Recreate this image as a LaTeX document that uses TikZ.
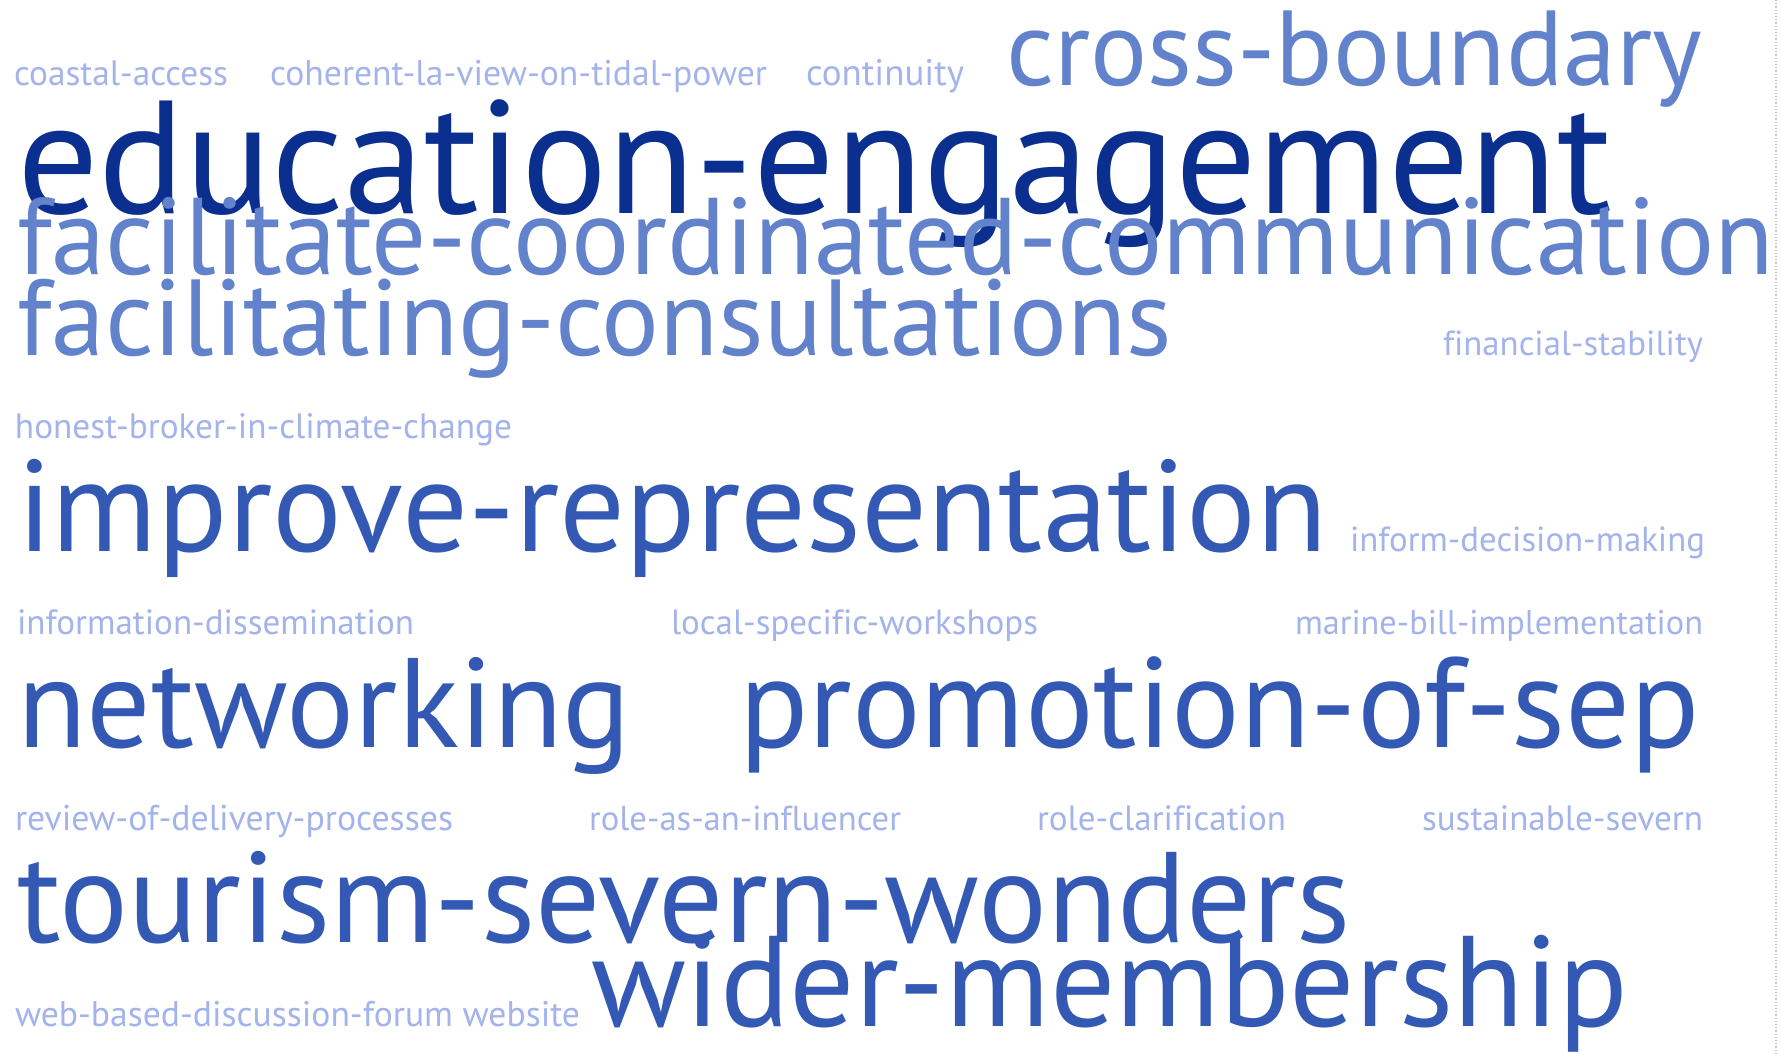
\documentclass[tikz,border=0pt]{standalone}
\usepackage{fontspec}
\setmainfont[Ligatures=NoCommon]{PT Sans}
\usepackage{graphicx}
\definecolor{cDark}{HTML}{0B2F8E}
\definecolor{cMid}{HTML}{3459B5}
\definecolor{cLight}{HTML}{6282CC}
\definecolor{cSmall}{HTML}{A3B3EB}
\definecolor{cRule}{HTML}{C8C8C8}
\tikzset{
  word/.style={anchor=base west, inner sep=0pt, outer sep=0pt, font=\fontsize{20}{24}\selectfont},
  wdark/.style={word, text=cDark},
  wmid/.style={word, text=cMid},
  wlight/.style={word, text=cLight},
  wsmall/.style={word, text=cSmall},
  rule/.style={draw=cRule, dotted, line width=1.2pt}
}
\newcommand\fw[2]{\resizebox{#1pt}{!}{#2}}
\begin{document}
\begin{tikzpicture}[x=1pt,y=-1pt]
\fill[white] (0,0) rectangle (1780,1053);
\useasboundingbox (0,0) rectangle (1780,1053);
% row 1
\node[wsmall] (coastal) at (14,85) {\fw{214}{coastal-access}};
\node[wsmall] (coherent) at (270,85) {\fw{497}{coherent-la-view-on-tidal-power}};
\node[wsmall] (continuity) at (806,85) {\fw{158}{continuity}};
\node[wlight] (cross) at (1006,85) {\fw{696}{cross-boundary}};
% row 2
\node[wdark] (education) at (17,213) {\fw{1595}{education-engagement}};
% row 3
\node[wlight] (facilitate) at (17,274) {\fw{1757}{facilitate-coordinated-communication}};
% row 4
\node[wlight] (consult) at (17,355) {\fw{1155}{facilitating-consultations}};
\node[wsmall] (financial) at (1443,355) {\fw{260}{financial-stability}};
% row 5
\node[wsmall] (honest) at (15,438) {\fw{497}{honest-broker-in-climate-change}};
% row 6
\node[wmid] (improve) at (17,551) {\fw{1310}{improve-representation}};
\node[wsmall] (inform) at (1350,551) {\fw{355}{inform-decision-making}};
% row 7
\node[wsmall] (infodiss) at (17,634) {\fw{397}{information-dissemination}};
\node[wsmall] (local) at (671,634) {\fw{367}{local-specific-workshops}};
\node[wsmall] (marine) at (1295,634) {\fw{408}{marine-bill-implementation}};
% row 8
\node[wmid] (networking) at (17,747) {\fw{614}{networking}};
\node[wmid] (promotion) at (739,747) {\fw{961}{promotion-of-sep}};
% row 9
\node[wsmall] (review) at (15,830) {\fw{438}{review-of-delivery-processes}};
\node[wsmall] (influencer) at (589,830) {\fw{312}{role-as-an-influencer}};
\node[wsmall] (clarif) at (1037,830) {\fw{249}{role-clarification}};
\node[wsmall] (sustain) at (1422,830) {\fw{281}{sustainable-severn}};
% row 10
\node[wmid] (tourism) at (17,942) {\fw{1333}{tourism-severn-wonders}};
% row 11
\node[wsmall] (web) at (15,1026) {\fw{565}{web-based-discussion-forum website}};
\node[wmid] (wider) at (591,1026) {\fw{1037}{wider-membership}};
% right dotted rule
\coordinate (rtop) at (1776,0);
\coordinate (rbot) at (1776,1053);
\draw[rule] (rtop) -- (rbot);
\end{tikzpicture}
\end{document}
